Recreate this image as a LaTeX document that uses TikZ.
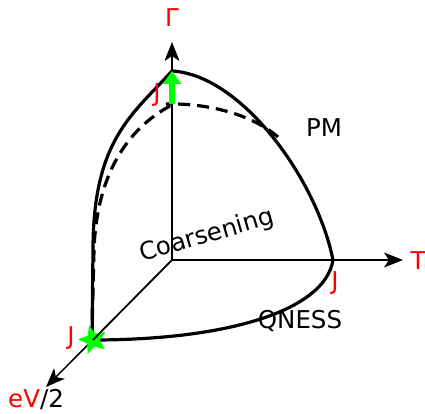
\documentclass[tikz,border=0pt]{standalone}
\usepackage{fontspec}
\setmainfont{DejaVu Sans}
\usetikzlibrary{arrows.meta,shapes.geometric}
\definecolor{pured}{RGB}{255,0,0}
\definecolor{pugreen}{RGB}{0,255,0}
\begin{document}
\begin{tikzpicture}[x=1pt,y=-1pt,
  axis/.style={line width=1.5pt,-{Stealth[length=19pt,width=15pt,inset=5pt]}},
  curve/.style={line width=3.2pt,line cap=round,line join=round},
  lab/.style={font=\fontsize{24.5}{28}\selectfont,inner sep=0pt},
  rlab/.style={lab,text=pured}]
\useasboundingbox (0,0) rectangle (425,414);
\coordinate (O) at (172,260);
\coordinate (G) at (172,42);
\coordinate (Tt) at (403,260);
\coordinate (E) at (46,387);
\coordinate (top) at (172,71);
\coordinate (rt) at (333,260);
\coordinate (lf) at (92,340);
\draw[axis] (O) -- (G);
\draw[axis] (O) -- (Tt);
\draw[axis] (O) -- (E);
% PM boundary (solid)
\draw[curve] (lf) -- (93,250) .. controls (93,140) and (132,115) .. (top)
  .. controls (242,75) and (317,180) .. (rt);
% bottom boundary
\draw[curve] (lf) .. controls (230,340) and (325,310) .. (rt);
% dashed curve
\draw[curve,dash pattern=on 12pt off 7pt,line cap=butt] (278,137) .. controls (250,113) and (205,103) .. (166,104);
\draw[curve,dash pattern=on 12pt off 7pt,line cap=butt] (170,106) .. controls (135,125) and (97,165) .. (94,250) -- (92,332);
% green arrow
\coordinate (ga) at (172,104);
\draw[pugreen,line width=6.5pt,-{Triangle[length=13pt,width=18pt]}] (ga) -- (top);
% green star
\node[star,star points=5,star point ratio=2.2,fill=pugreen,minimum size=30pt,inner sep=0pt,rotate=15] (st) at (93,340) {};
\draw[line width=1.5pt] (O) -- (st.center);
% labels
\node[rlab] (gam) at (172,18) {Γ};
\node[rlab] (tl) at (418,261) {T};
\node[lab,anchor=west] (ev) at (8,400) {\textcolor{pured}{eV}/2};
\node[rlab] (j1) at (157,95) {J};
\node[rlab] (j2) at (335,283) {J};
\node[rlab] (j3) at (71,338) {J};
\node[lab] (pm) at (324,128) {PM};
\node[lab] (qn) at (300,321) {QNESS};
\node[lab,rotate=16] (co) at (207,236) {Coarsening};
\end{tikzpicture}
\end{document}
